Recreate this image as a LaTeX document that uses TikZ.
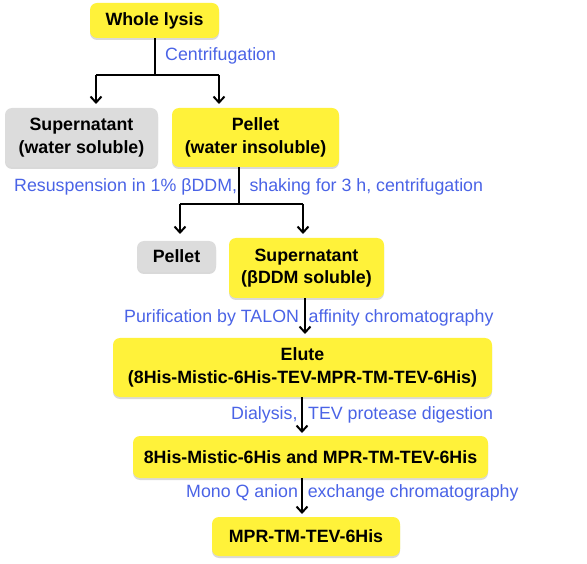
\documentclass[tikz,border=0pt]{standalone}
\usepackage{fontspec}
\setmainfont{Liberation Sans}
\usetikzlibrary{arrows.meta,shadows}
\definecolor{boxyellow}{RGB}{255,242,58}
\definecolor{boxgray}{RGB}{220,220,220}
\definecolor{labelblue}{RGB}{74,99,230}
\tikzset{
  stepbox/.style={rounded corners=7pt, inner sep=0pt, align=center,
    font=\fontsize{17.8}{22.5}\selectfont\bfseries,
    drop shadow={shadow xshift=0pt, shadow yshift=-2pt, opacity=0.3}},
  ybox/.style={stepbox, fill=boxyellow},
  gbox/.style={stepbox, fill=boxgray},
  lbl/.style={text=labelblue, font=\fontsize{17.8}{21}\selectfont, inner sep=0pt, anchor=west},
  conn/.style={line width=2pt},
  arr/.style={line width=2pt, -{Straight Barb[length=6pt,width=11pt]}},
}
\begin{document}
\begin{tikzpicture}[x=1pt,y=-1pt]
\useasboundingbox (0,0) rectangle (587,564);
% boxes
\node[ybox, minimum width=129pt, minimum height=35pt] (whole) at (154.5,20.5) {Whole lysis};
\node[gbox, minimum width=153pt, minimum height=59pt] (sup1) at (81.5,137.5) {Supernatant\\(water soluble)};
\node[ybox, minimum width=167pt, minimum height=59pt] (pel1) at (255.5,137.5) {Pellet\\(water insoluble)};
\node[gbox, minimum width=79pt, minimum height=31pt] (pel2) at (176.5,256.5) {Pellet};
\node[ybox, minimum width=155pt, minimum height=60pt] (sup2) at (306.5,268) {Supernatant\\(βDDM soluble)};
\node[ybox, minimum width=379pt, minimum height=59pt] (elute) at (302.5,367.5) {Elute\\(8His-Mistic-6His-TEV-MPR-TM-TEV-6His)};
\node[ybox, minimum width=355pt, minimum height=42pt] (mix) at (310.5,457) {8His-Mistic-6His and MPR-TM-TEV-6His};
\node[ybox, minimum width=188pt, minimum height=39pt] (final) at (306,536.5) {MPR-TM-TEV-6His};
% labels
\node[lbl] (l1) at (165,56) {Centrifugation};
\node[lbl] (l2) at (14,187) {Resuspension in 1\% βDDM,\hspace{0.7em}shaking for 3 h, centrifugation};
\node[lbl] (l3) at (124,318) {Purification by TALON\hspace{0.55em}affinity chromatography};
\node[lbl] (l4) at (231,415) {Dialysis,\hspace{0.6em}TEV protease digestion};
\node[lbl] (l5) at (186,493) {Mono Q anion\hspace{0.55em}exchange chromatography};
% connectors: first split
\coordinate (j1) at (155,75);
\coordinate (j1l) at (96,75);
\coordinate (j1r) at (219,75);
\coordinate (t1l) at (96,104);
\coordinate (t1r) at (219,104);
\draw[conn] (whole.south -| j1) -- (j1);
\draw[conn] (j1l) -- (j1r);
\draw[arr] (j1l) -- (t1l);
\draw[arr] (j1r) -- (t1r);
% second split
\coordinate (j2) at (239,204);
\coordinate (j2l) at (180,204);
\coordinate (j2r) at (303,204);
\coordinate (t2l) at (180,234);
\coordinate (t2r) at (303,234);
\draw[conn] (pel1.south -| j2) -- (j2);
\draw[conn] (j2l) -- (j2r);
\draw[arr] (j2l) -- (t2l);
\draw[arr] (j2r) -- (t2r);
% straight arrows
\coordinate (t3) at (305,334);
\draw[arr] (sup2.south -| t3) -- (t3);
\coordinate (t4) at (302,433);
\draw[arr] (elute.south -| t4) -- (t4);
\coordinate (t5) at (302,514);
\draw[arr] (mix.south -| t5) -- (t5);
\end{tikzpicture}
\end{document}
